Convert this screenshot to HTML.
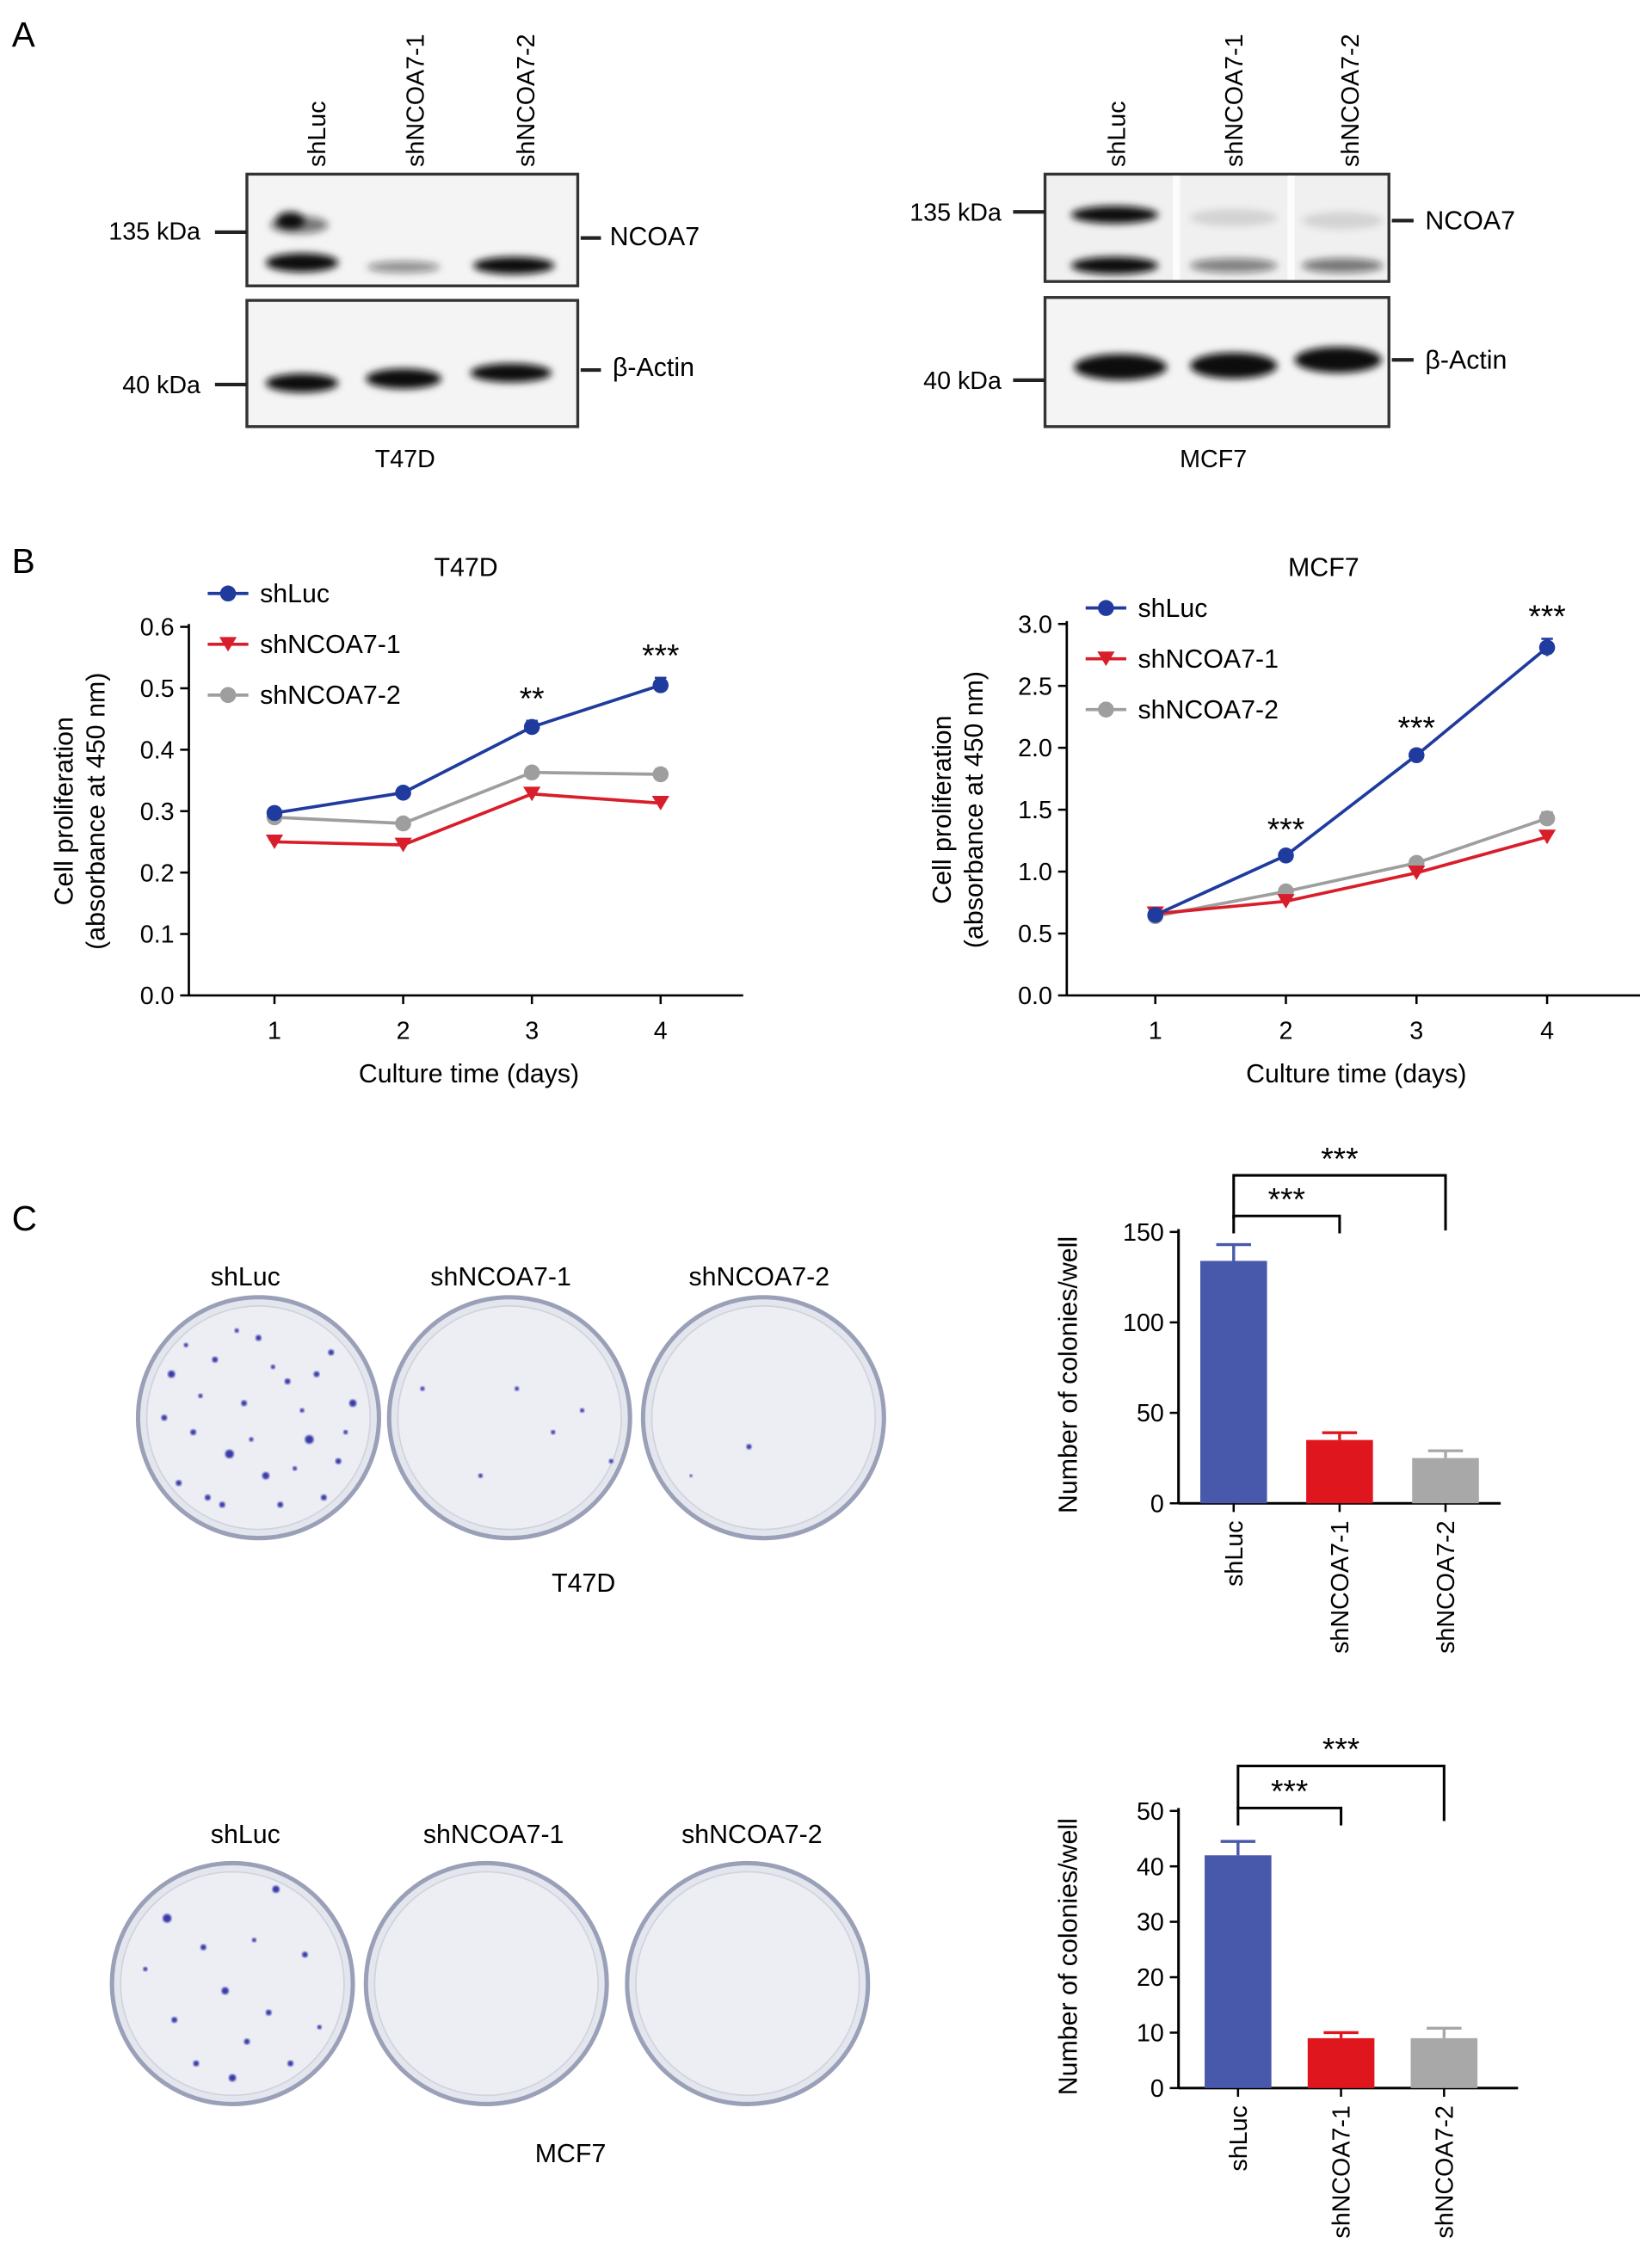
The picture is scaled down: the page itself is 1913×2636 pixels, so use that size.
<!DOCTYPE html>
<html><head><meta charset="utf-8"><style>
html,body{margin:0;padding:0;background:#fff;}
svg{display:block;font-family:"Liberation Sans",Arial,sans-serif;}
</style></head><body>
<svg id="fig" width="1913" height="2636" viewBox="0 0 1134 1563" xmlns="http://www.w3.org/2000/svg">
<defs>
<filter id="blur" x="-20%" y="-50%" width="140%" height="200%"><feGaussianBlur stdDeviation="2.5"/></filter>
<filter id="blur2"><feGaussianBlur stdDeviation="0.6"/></filter>
</defs>
<g id="panelA">
<text x="8" y="32" font-size="24">A</text>
<!-- T47D blot -->
<g>
<text transform="translate(224,115) rotate(-90)" font-size="17">shLuc</text>
<text transform="translate(292,115) rotate(-90)" font-size="17">shNCOA7-1</text>
<text transform="translate(368,115) rotate(-90)" font-size="17">shNCOA7-2</text>
<rect x="170" y="120" width="228" height="77" fill="#f4f4f4" stroke="#333" stroke-width="2"/>
<g filter="url(#blur)" fill="#111">
<ellipse cx="206" cy="155" rx="20" ry="6" opacity="0.55"/>
<ellipse cx="200" cy="152" rx="10" ry="6"/>
<ellipse cx="208" cy="181" rx="25" ry="6.5"/>
<ellipse cx="278" cy="184" rx="25" ry="4" opacity="0.45"/>
<ellipse cx="354" cy="183" rx="28" ry="6"/>
</g>
<rect x="170" y="207" width="228" height="87" fill="#f4f4f4" stroke="#333" stroke-width="2"/>
<g filter="url(#blur)" fill="#111">
<ellipse cx="208" cy="264" rx="25" ry="6.5"/>
<ellipse cx="278" cy="261" rx="26" ry="7"/>
<ellipse cx="352" cy="257" rx="28" ry="6.5"/>
</g>
<line x1="148" y1="160" x2="170" y2="160" stroke="#222" stroke-width="2.5"/>
<line x1="148" y1="265" x2="170" y2="265" stroke="#222" stroke-width="2.5"/>
<line x1="400" y1="164" x2="414" y2="164" stroke="#222" stroke-width="2.5"/>
<line x1="400" y1="255" x2="414" y2="255" stroke="#222" stroke-width="2.5"/>
<text x="138" y="165" font-size="17" text-anchor="end">135 kDa</text>
<text x="138" y="271" font-size="17" text-anchor="end">40 kDa</text>
<text x="420" y="169" font-size="18">NCOA7</text>
<text x="422" y="259" font-size="18">β-Actin</text>
<text x="279" y="322" font-size="17" text-anchor="middle">T47D</text>
</g>
<!-- MCF7 blot -->
<g>
<text transform="translate(775,115) rotate(-90)" font-size="17">shLuc</text>
<text transform="translate(856,115) rotate(-90)" font-size="17">shNCOA7-1</text>
<text transform="translate(936,115) rotate(-90)" font-size="17">shNCOA7-2</text>
<rect x="720" y="120" width="237" height="74" fill="#f0f0f0" stroke="#333" stroke-width="2"/>
<g filter="url(#blur)" fill="#111">
<ellipse cx="768" cy="148" rx="30" ry="6"/>
<ellipse cx="768" cy="183" rx="30" ry="6"/>
<ellipse cx="850" cy="150" rx="30" ry="6" opacity="0.12"/>
<ellipse cx="850" cy="183" rx="30" ry="5" opacity="0.5"/>
<ellipse cx="925" cy="152" rx="28" ry="6" opacity="0.12"/>
<ellipse cx="925" cy="183" rx="28" ry="5" opacity="0.55"/>
</g>
<rect x="808" y="121" width="5" height="72" fill="#fff" opacity="0.8"/>
<rect x="887" y="121" width="5" height="72" fill="#fff" opacity="0.8"/>
<rect x="720" y="205" width="237" height="89" fill="#f4f4f4" stroke="#333" stroke-width="2"/>
<g filter="url(#blur)" fill="#111">
<ellipse cx="772" cy="253" rx="32" ry="9"/>
<ellipse cx="850" cy="252" rx="30" ry="9"/>
<ellipse cx="922" cy="248" rx="30" ry="9"/>
</g>
<line x1="698" y1="146" x2="720" y2="146" stroke="#222" stroke-width="2.5"/>
<line x1="698" y1="262" x2="720" y2="262" stroke="#222" stroke-width="2.5"/>
<line x1="959" y1="152" x2="974" y2="152" stroke="#222" stroke-width="2.5"/>
<line x1="959" y1="248" x2="974" y2="248" stroke="#222" stroke-width="2.5"/>
<text x="690" y="152" font-size="17" text-anchor="end">135 kDa</text>
<text x="690" y="268" font-size="17" text-anchor="end">40 kDa</text>
<text x="982" y="158" font-size="18">NCOA7</text>
<text x="982" y="254" font-size="18">β-Actin</text>
<text x="836" y="322" font-size="17" text-anchor="middle">MCF7</text>
</g>
</g>
<text x="8" y="395" font-size="24">B</text>
<text x="8" y="848" font-size="24">C</text>
<g id="lineCharts"></g>
<g id="plates"></g>
<g id="barCharts"></g>
</svg>
<script>
const NS="http://www.w3.org/2000/svg";
const days=[1,2,3,4];
const seriesNames=["shLuc","shNCOA7-1","shNCOA7-2"];
const t47dShLuc=[0.297,0.330,0.437,0.505];
const t47dSh1=[0.250,0.245,0.328,0.313];
const t47dSh2=[0.290,0.280,0.363,0.360];
const t47dErr=[0.006,0.006,0.010,0.012];
const t47dYTicks=["0.0","0.1","0.2","0.3","0.4","0.5","0.6"];
const t47dSig=["","","**","***"];
const mcf7ShLuc=[0.65,1.13,1.94,2.81];
const mcf7Sh1=[0.66,0.76,0.99,1.28];
const mcf7Sh2=[0.64,0.84,1.07,1.43];
const mcf7Err=[0.03,0.03,0.04,0.07];
const mcf7YTicks=["0.0","0.5","1.0","1.5","2.0","2.5","3.0"];
const mcf7Sig=["","***","***","***"];
const barCats=["shLuc","shNCOA7-1","shNCOA7-2"];
const t47dColonies=[134,35,25];
const t47dColErr=[9,4,4];
const t47dColTicks=[0,50,100,150];
const mcf7Colonies=[42,9,9];
const mcf7ColErr=[2.5,1,1.8];
const mcf7ColTicks=[0,10,20,30,40,50];

function el(tag,attrs,parent,text){const e=document.createElementNS(NS,tag);for(const k in attrs)e.setAttribute(k,attrs[k]);if(text!==undefined)e.textContent=text;parent.appendChild(e);return e;}
const colors=["#1f3b9e","#d81e2a","#9e9e9e"];

function lineChart(o){
  const g=el("g",{},document.getElementById("lineCharts"));
  
  
  const yMax=parseFloat(o.ticks[o.ticks.length-1]);
  const ys=v=>o.y0-(v/yMax)*(o.y0-o.yTop);
  const xs=d=>o.x1+(d-1)*o.dx;
  el("line",{x1:o.ax,y1:o.yTop-2,x2:o.ax,y2:o.y0,stroke:"#000","stroke-width":1.6},g);
  el("line",{x1:o.ax,y1:o.y0,x2:o.xEnd,y2:o.y0,stroke:"#000","stroke-width":1.6},g);
  o.ticks.forEach(t=>{const y=ys(parseFloat(t));el("line",{x1:o.ax-6,y1:y,x2:o.ax,y2:y,stroke:"#000","stroke-width":1.5},g);
    const tx=el("text",{x:o.ax-10,y:y+6,"font-size":17,"text-anchor":"end"},g,t);});
  days.forEach(d=>{const x=xs(d);el("line",{x1:x,y1:o.y0,x2:x,y2:o.y0+6,stroke:"#000","stroke-width":1.5},g);
    const tx=el("text",{x:x,y:o.y0+30,"font-size":17,"text-anchor":"middle"},g,d);});
  const xt=el("text",{x:(o.ax+o.xEnd)/2+2,y:o.y0+60,"font-size":18,"text-anchor":"middle"},g,"Culture time (days)");
  
  const yt=el("text",{transform:`translate(${o.ax-80},${(o.y0+o.yTop)/2}) rotate(-90)`,"font-size":18,"text-anchor":"middle"},g);
  
  el("tspan",{x:0,dy:0},yt,"Cell proliferation");el("tspan",{x:0,dy:22},yt,"(absorbance at 450 nm)");
  const tt=el("text",{x:o.titleX,y:o.titleY,"font-size":18,"text-anchor":"middle"},g,o.title);
  
  [2,1,0].forEach(si=>{
    const vals=o.series[si];const c=colors[si];
    const pts=days.map((d,i)=>xs(d)+","+ys(vals[i])).join(" ");
    const pl=el("polyline",{points:pts,fill:"none",stroke:c,"stroke-width":2.2},g);
    
    days.forEach((d,i)=>{const x=xs(d),y=ys(vals[i]);const e=o.err[i]*(si==0?1:0.7);
      el("line",{x1:x,y1:ys(vals[i]-e),x2:x,y2:ys(vals[i]+e),stroke:c,"stroke-width":1.5},g);
      el("line",{x1:x-4,y1:ys(vals[i]+e),x2:x+4,y2:ys(vals[i]+e),stroke:c,"stroke-width":1.5},g);
      let m;
      if(si==1){m=el("path",{d:`M${x-6},${y-5}L${x+6},${y-5}L${x},${y+5}Z`,fill:c},g);}
      else m=el("circle",{cx:x,cy:y,r:5.5,fill:c},g);
      
    });
  });
  days.forEach((d,i)=>{if(o.sig[i]){const s=el("text",{x:xs(d),y:ys(o.series[0][i]+o.err[i])-8,"font-size":22,"text-anchor":"middle"},g,o.sig[i]);
    }});
  seriesNames.forEach((n,i)=>{const y=o.legY+i*35;const x=o.legX;
    const lg=el("g",{},g);
    el("line",{x1:x,y1:y,x2:x+28,y2:y,stroke:colors[i],"stroke-width":2.2},lg);
    if(i==1)el("path",{d:`M${x+8},${y-5}L${x+20},${y-5}L${x+14},${y+5}Z`,fill:colors[i]},lg);
    else el("circle",{cx:x+14,cy:y,r:5.5,fill:colors[i]},lg);
    el("text",{x:x+36,y:y+6,"font-size":18},lg,n);});
}
lineChart({name:"t47d-proliferation-chart",ax:130,xEnd:512,y0:686,yTop:432,x1:189,dx:88.7,ticks:t47dYTicks,series:[t47dShLuc,t47dSh1,t47dSh2],err:t47dErr,sig:t47dSig,title:"T47D",titleX:321,titleY:397,legX:143,legY:409});
lineChart({name:"mcf7-proliferation-chart",ax:735,xEnd:1130,y0:686,yTop:430,x1:796,dx:90,ticks:mcf7YTicks,series:[mcf7ShLuc,mcf7Sh1,mcf7Sh2],err:mcf7Err,sig:mcf7Sig,title:"MCF7",titleX:912,titleY:397,legX:748,legY:419});

function barChart(o){
  const g=el("g",{},document.getElementById("barCharts"));
  
  const yMax=o.ticks[o.ticks.length-1];
  const ys=v=>o.y0-(v/yMax)*(o.y0-o.yTop);
  el("line",{x1:o.ax,y1:o.yTop-2,x2:o.ax,y2:o.y0,stroke:"#000","stroke-width":1.8},g);
  el("line",{x1:o.ax,y1:o.y0,x2:o.xEnd,y2:o.y0,stroke:"#000","stroke-width":1.8},g);
  o.ticks.forEach(t=>{const y=ys(t);el("line",{x1:o.ax-6,y1:y,x2:o.ax,y2:y,stroke:"#000","stroke-width":1.5},g);
    const tx=el("text",{x:o.ax-10,y:y+6,"font-size":17,"text-anchor":"end"},g,t);});
  const yt=el("text",{transform:`translate(${o.ax-70},${(o.y0+o.yTop)/2+5}) rotate(-90)`,"font-size":18,"text-anchor":"middle"},g,"Number of colonies/well");
  
  const bc=["#4858aa","#e0161e","#a8a8a8"];
  barCats.forEach((c,i)=>{const cx=o.cx0+i*o.dx;const v=o.vals[i];
    const r=el("rect",{x:cx-23,y:ys(v),width:46,height:o.y0-ys(v),fill:bc[i]},g);
    
    const e=ys(v+o.err[i]);
    el("line",{x1:cx,y1:ys(v),x2:cx,y2:e,stroke:bc[i],"stroke-width":2},g);
    el("line",{x1:cx-12,y1:e,x2:cx+12,y2:e,stroke:bc[i],"stroke-width":2},g);
    el("line",{x1:cx,y1:o.y0,x2:cx,y2:o.y0+6,stroke:"#000","stroke-width":1.5},g);
    const tx=el("text",{transform:`translate(${cx+6},${o.y0+12}) rotate(-90)`,"font-size":17,"text-anchor":"end"},g,c);
    });
  const c0=o.cx0,c1=o.cx0+o.dx,c2=o.cx0+2*o.dx;
  const b1=el("path",{d:`M${c0},${o.b1y+12}V${o.b1y}H${c1}V${o.b1y+12}`,fill:"none",stroke:"#000","stroke-width":1.8},g);
  
  el("text",{x:(c0+c1)/2,y:o.b1y-4,"font-size":22,"text-anchor":"middle"},g,"***");
  const b2=el("path",{d:`M${c0},${o.b2y+30}V${o.b2y}H${c2}V${o.b2y+38}`,fill:"none",stroke:"#000","stroke-width":1.8},g);
  
  el("text",{x:(c0+c2)/2,y:o.b2y-4,"font-size":22,"text-anchor":"middle"},g,"***");
}
barChart({name:"t47d-colony-chart",ax:812,xEnd:1034,y0:1036,yTop:849,cx0:850,dx:73,vals:t47dColonies,err:t47dColErr,ticks:t47dColTicks,b1y:838,b2y:810});
barChart({name:"mcf7-colony-chart",ax:812,xEnd:1046,y0:1439,yTop:1248,cx0:853,dx:71,vals:mcf7Colonies,err:mcf7ColErr,ticks:mcf7ColTicks,b1y:1246,b2y:1217});

// plates (images, not data)
const pg=document.getElementById("plates");
function plate(cx,cy,label,dots,lx,ly){
  const g=el("g",{},pg);
  el("circle",{cx:cx,cy:cy,r:83,fill:"#e4e6ee",stroke:"#9aa0b8","stroke-width":3},g);
  el("circle",{cx:cx,cy:cy,r:77,fill:"#eceef4",stroke:"#d0d3de","stroke-width":1},g);
  dots.forEach(d=>el("circle",{cx:cx+d[0],cy:cy+d[1],r:d[2],fill:"#3a3aa8",filter:"url(#blur2)"},g));
  el("text",{x:lx,y:ly,"font-size":18,"text-anchor":"middle"},g,label);
}
const luc1=[[-60,-30,2.5],[-45,10,2],[-30,-40,2],[-20,25,3],[-10,-10,2],[5,40,2.5],[20,-25,2],[35,15,3],[50,-45,2],[55,30,2],[-55,45,2],[-35,55,2],[0,-55,2],[15,60,2],[45,55,2],[-65,0,2],[65,-10,2.5],[-5,15,1.5],[25,35,1.5],[-40,-15,1.5],[30,-5,1.5],[-15,-60,1.5],[60,10,1.5],[-25,60,2],[10,-35,1.5],[-50,-50,1.5],[40,-30,2]];
plate(178,977,"shLuc",luc1,169,886);
plate(351,977,"shNCOA7-1",[[-60,-20,1.5],[5,-20,1.5],[30,10,1.5],[-20,40,1.5],[50,-5,1.5],[70,30,1.5]],345,886);
plate(526,977,"shNCOA7-2",[[-10,20,1.8],[-50,40,1]],523,886);
plate(160,1367,"shLuc",[[-45,-45,3],[30,-65,2.5],[-20,-25,2],[-5,5,2.5],[25,20,2],[-40,25,2],[0,65,2.5],[10,40,2],[50,-20,2],[-60,-10,1.5],[40,55,2],[-25,55,2],[60,30,1.5],[15,-30,1.5]],169,1270);
plate(335,1367,"shNCOA7-1",[],340,1270);
plate(515,1367,"shNCOA7-2",[],518,1270);
const lab1=el("text",{x:402,y:1097,"font-size":18,"text-anchor":"middle"},pg,"T47D");

const lab2=el("text",{x:393,y:1490,"font-size":18,"text-anchor":"middle"},pg,"MCF7");

</script>
</body></html>
